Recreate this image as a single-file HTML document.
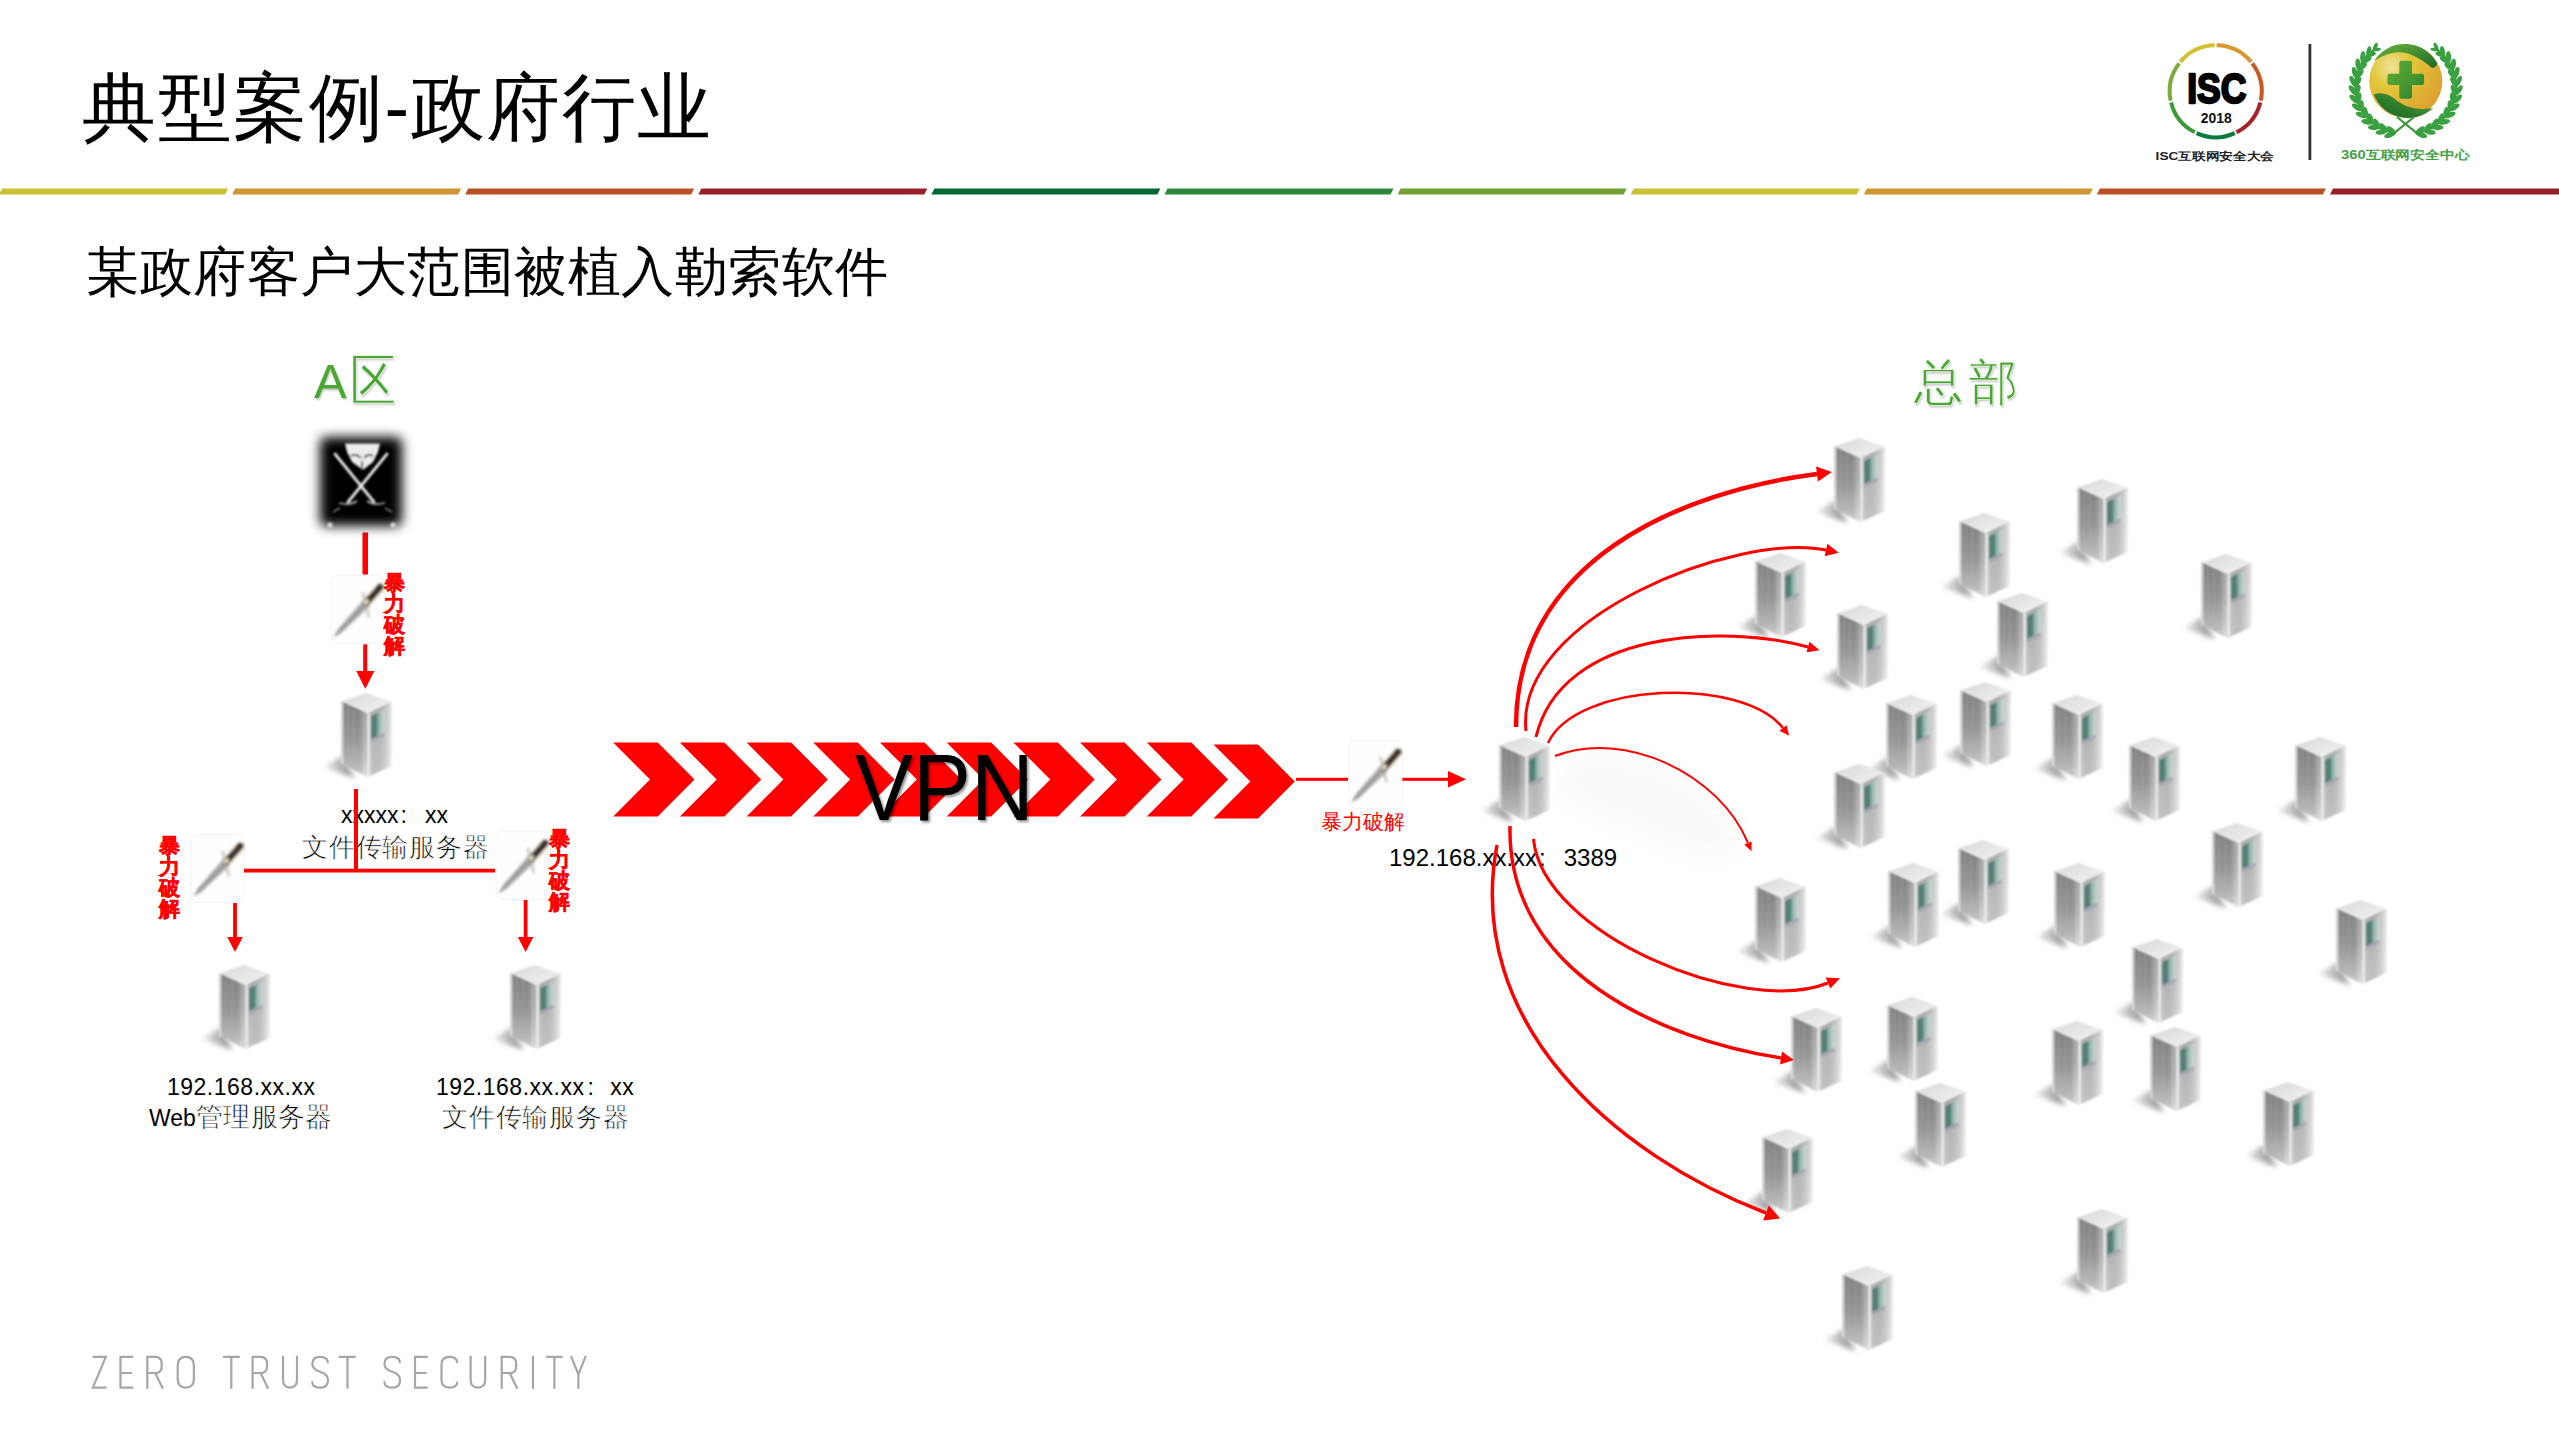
<!DOCTYPE html>
<html><head><meta charset="utf-8"><title>slide</title>
<style>
html,body{margin:0;padding:0;background:#fff;}
body{width:2559px;height:1439px;position:relative;overflow:hidden;font-family:"Liberation Sans",sans-serif;}
.t{position:absolute;white-space:nowrap;line-height:1;margin:0;}
svg{position:absolute;left:0;top:0;}
</style></head><body>
<svg width="2559" height="1439" viewBox="0 0 2559 1439">
<defs>
 <linearGradient id="gL" x1="0" y1="0" x2="0" y2="1">
  <stop offset="0" stop-color="#808080"/><stop offset="0.5" stop-color="#969696"/><stop offset="0.85" stop-color="#b8b8b8"/><stop offset="1" stop-color="#d0d0d0"/>
 </linearGradient>
 <linearGradient id="gLh" x1="0" y1="0" x2="1" y2="0">
  <stop offset="0" stop-color="#fff" stop-opacity="0.55"/><stop offset="0.12" stop-color="#fff" stop-opacity="0"/>
  <stop offset="0.75" stop-color="#fff" stop-opacity="0"/><stop offset="0.9" stop-color="#fff" stop-opacity="0.35"/><stop offset="1" stop-color="#fff" stop-opacity="0.1"/>
 </linearGradient>
 <linearGradient id="gR" x1="0" y1="0" x2="0" y2="1">
  <stop offset="0" stop-color="#c4c4c4"/><stop offset="1" stop-color="#e2e2e2"/>
 </linearGradient>
 <linearGradient id="gRh" x1="0" y1="0" x2="1" y2="0">
  <stop offset="0" stop-color="#000" stop-opacity="0.05"/><stop offset="1" stop-color="#fff" stop-opacity="0.6"/>
 </linearGradient>
 <linearGradient id="gT" x1="0" y1="0" x2="1" y2="1">
  <stop offset="0" stop-color="#d8d8d8"/><stop offset="1" stop-color="#f2f2f2"/>
 </linearGradient>
 <linearGradient id="gTeal" x1="0" y1="0" x2="1" y2="0">
  <stop offset="0" stop-color="#7ea89f"/><stop offset="1" stop-color="#d8e6e2" stop-opacity="0.6"/>
 </linearGradient>
 <linearGradient id="gSh" x1="0" y1="0" x2="1" y2="0">
  <stop offset="0" stop-color="#777" stop-opacity="0.1"/><stop offset="0.7" stop-color="#666" stop-opacity="0.6"/><stop offset="1" stop-color="#666" stop-opacity="0.65"/>
 </linearGradient>
 <filter id="fS" x="-50%" y="-50%" width="200%" height="200%"><feGaussianBlur stdDeviation="3.5"/></filter>
 <filter id="fS2" x="-80%" y="-80%" width="260%" height="260%"><feGaussianBlur stdDeviation="2.6"/></filter>
 <filter id="fB" x="-20%" y="-20%" width="140%" height="140%"><feGaussianBlur stdDeviation="0.9"/></filter>
 <filter id="fK" x="-20%" y="-20%" width="140%" height="140%"><feGaussianBlur stdDeviation="1.4"/></filter>
 <filter id="fL" x="-10%" y="-10%" width="120%" height="120%"><feGaussianBlur stdDeviation="0.4"/></filter>
 <filter id="fBig" x="-30%" y="-30%" width="160%" height="160%"><feGaussianBlur stdDeviation="14"/></filter>
 <filter id="fA" x="-30%" y="-30%" width="160%" height="160%"><feGaussianBlur stdDeviation="6"/></filter>
 <g id="srv">
  <path d="M-18,75 L1,64 L14,86 Z" fill="url(#gSh)" filter="url(#fS2)"/>
  <g filter="url(#fB)">
  <path d="M0,9 L26.5,21 L26.5,85 L0,72 Z" fill="url(#gL)"/>
  <path d="M0,9 L26.5,21 L26.5,85 L0,72 Z" fill="url(#gLh)"/>
  <path d="M7,12 L7,75 M13,15 L13,78 M20,18 L20,81" stroke="#b4b4b4" stroke-width="0.8" opacity="0.55"/>
  <path d="M26.5,21 L50.5,9.5 L50.5,74 L26.5,85 Z" fill="url(#gR)"/>
  <path d="M26.5,21 L50.5,9.5 L50.5,74 L26.5,85 Z" fill="url(#gRh)"/>
  <path d="M1.5,9 L25,1 L49.5,9.5 L26.5,20 Z" fill="url(#gT)"/>
  <path d="M30,24 L36.5,20.9 L36.5,43.9 L30,47 Z" fill="#527f77"/>
  <path d="M36.5,20.9 L44,17.3 L44,40.3 L36.5,43.9 Z" fill="url(#gTeal)"/>
  <path d="M30,47 L43.5,40.6 L43.5,44 L30,50.5 Z" fill="#9a98ac" opacity="0.6"/>
  <path d="M27.6,21 L27.6,85" stroke="#f2f2f2" stroke-width="2"/>
  <path d="M1.3,10 L1.3,72" stroke="#dcdcdc" stroke-width="1.6"/>
  </g>
 </g>

 <marker id="ma1" markerUnits="userSpaceOnUse" markerWidth="17" markerHeight="17.0" refX="0" refY="8.5" orient="auto" overflow="visible"><path d="M0,1 L15,8.5 L0,16.0 Z" fill="#f00"/></marker>
 <marker id="ma2" markerUnits="userSpaceOnUse" markerWidth="15" markerHeight="15.0" refX="0" refY="7.5" orient="auto" overflow="visible"><path d="M0,1 L13,7.5 L0,14.0 Z" fill="#f00"/></marker>
 <marker id="ma3" markerUnits="userSpaceOnUse" markerWidth="14" markerHeight="13.0" refX="0" refY="6.5" orient="auto" overflow="visible"><path d="M0,1 L12,6.5 L0,12.0 Z" fill="#f00"/></marker>
 <marker id="ma4" markerUnits="userSpaceOnUse" markerWidth="12" markerHeight="11.0" refX="0" refY="5.5" orient="auto" overflow="visible"><path d="M0,1 L10,5.5 L0,10.0 Z" fill="#f00"/></marker>
 <marker id="ma5" markerUnits="userSpaceOnUse" markerWidth="11" markerHeight="10" refX="0" refY="5" orient="auto" overflow="visible"><path d="M0,1 L9,5 L0,9 Z" fill="#f00"/></marker>
 <marker id="ma6" markerUnits="userSpaceOnUse" markerWidth="15" markerHeight="14" refX="0" refY="7" orient="auto" overflow="visible"><path d="M0,1 L13,7 L0,13 Z" fill="#f00"/></marker>
 <marker id="ma7" markerUnits="userSpaceOnUse" markerWidth="15" markerHeight="15.0" refX="0" refY="7.5" orient="auto" overflow="visible"><path d="M0,1 L13,7.5 L0,14.0 Z" fill="#f00"/></marker>
 <marker id="ma8" markerUnits="userSpaceOnUse" markerWidth="17" markerHeight="18" refX="0" refY="9" orient="auto" overflow="visible"><path d="M0,1 L15,9 L0,17 Z" fill="#f00"/></marker>

 <g id="knife">
  <rect x="0.5" y="0.5" width="53" height="68" rx="7" fill="#fefefe" stroke="#f3f3f3" stroke-width="1"/>
  <g filter="url(#fK)">
  <ellipse cx="44" cy="20" rx="12" ry="6" transform="rotate(-48 44 20)" fill="#fbf1e2" opacity="0.8"/>
  <path d="M32.2,25.4 L38.8,31.6 L11.2,57.6 L2.8,62.7 L7.5,54.1 Z" fill="#acacac"/>
  <path d="M35.5,28.5 L5,60" stroke="#8a8a8a" stroke-width="1.6"/>
  <path d="M32,16.8 L38.3,42.4" stroke="#b0a89c" stroke-width="2.4" opacity="0.7"/>
  <path d="M49.6,12.3 L36,27.5" stroke="#3a2e26" stroke-width="6.8" stroke-linecap="round"/>
  <path d="M37.5,25 L34,29" stroke="#efe2c8" stroke-width="4"/>
  </g>
 </g>
</defs>

<path d="M-1.0,194.5 L225.0,194.5 L228.0,188.5 L2.0,188.5 Z" fill="#cbc132"/>
<path d="M232.1,194.5 L458.1,194.5 L461.1,188.5 L235.1,188.5 Z" fill="#cf9634"/>
<path d="M465.2,194.5 L691.2,194.5 L694.2,188.5 L468.2,188.5 Z" fill="#bb5022"/>
<path d="M698.3,194.5 L924.3,194.5 L927.3,188.5 L701.3,188.5 Z" fill="#962228"/>
<path d="M931.4,194.5 L1157.4,194.5 L1160.4,188.5 L934.4,188.5 Z" fill="#046a35"/>
<path d="M1164.5,194.5 L1390.5,194.5 L1393.5,188.5 L1167.5,188.5 Z" fill="#2c8a3c"/>
<path d="M1397.6,194.5 L1623.6,194.5 L1626.6,188.5 L1400.6,188.5 Z" fill="#74a035"/>
<path d="M1630.7,194.5 L1856.7,194.5 L1859.7,188.5 L1633.7,188.5 Z" fill="#cbc132"/>
<path d="M1863.8,194.5 L2089.8,194.5 L2092.8,188.5 L1866.8,188.5 Z" fill="#cf9634"/>
<path d="M2096.9,194.5 L2322.9,194.5 L2325.9,188.5 L2099.9,188.5 Z" fill="#bb5022"/>
<path d="M2330.0,194.5 L2600.0,194.5 L2603.0,188.5 L2333.0,188.5 Z" fill="#962228"/>
<path d="M613.2,742.4 L657.7,742.4 L694.5,779.5 L657.7,816.5 L613.2,816.5 L650.0,779.5 Z" fill="#f00"/>
<path d="M679.9,742.4 L724.4,742.4 L761.2,779.5 L724.4,816.5 L679.9,816.5 L716.7,779.5 Z" fill="#f00"/>
<path d="M746.6,742.4 L791.1,742.4 L827.9,779.5 L791.1,816.5 L746.6,816.5 L783.4,779.5 Z" fill="#f00"/>
<path d="M813.3,742.4 L857.8,742.4 L894.6,779.5 L857.8,816.5 L813.3,816.5 L850.1,779.5 Z" fill="#f00"/>
<path d="M880.0,742.4 L924.5,742.4 L961.3,779.5 L924.5,816.5 L880.0,816.5 L916.8,779.5 Z" fill="#f00"/>
<path d="M946.7,742.4 L991.2,742.4 L1028.0,779.5 L991.2,816.5 L946.7,816.5 L983.5,779.5 Z" fill="#f00"/>
<path d="M1013.4,742.4 L1057.9,742.4 L1094.7,779.5 L1057.9,816.5 L1013.4,816.5 L1050.2,779.5 Z" fill="#f00"/>
<path d="M1080.1,742.4 L1124.6,742.4 L1161.4,779.5 L1124.6,816.5 L1080.1,816.5 L1116.9,779.5 Z" fill="#f00"/>
<path d="M1146.8,742.4 L1191.3,742.4 L1228.1,779.5 L1191.3,816.5 L1146.8,816.5 L1183.6,779.5 Z" fill="#f00"/>
<path d="M1213.5,744.4 L1258.0,744.4 L1294.8,781.5 L1258.0,818.5 L1213.5,818.5 L1250.3,781.5 Z" fill="#f00"/>
<path d="M1560,760 C1625,735 1720,775 1750,850 L1700,860 L1560,800 Z" fill="#000" opacity="0.02" filter="url(#fBig)"/>
<use href="#srv" x="341" y="692"/>
<use href="#srv" x="219" y="964"/>
<use href="#srv" x="510" y="964"/>
<use href="#srv" x="1499" y="736"/>
<use href="#srv" x="1834" y="437"/>
<use href="#srv" x="1755" y="552"/>
<use href="#srv" x="1837" y="604"/>
<use href="#srv" x="1959" y="512"/>
<use href="#srv" x="1997" y="592"/>
<use href="#srv" x="2077" y="478"/>
<use href="#srv" x="1886" y="694"/>
<use href="#srv" x="1960" y="681"/>
<use href="#srv" x="2052" y="694"/>
<use href="#srv" x="1834" y="763"/>
<use href="#srv" x="1755" y="877"/>
<use href="#srv" x="1888" y="862"/>
<use href="#srv" x="1958" y="839"/>
<use href="#srv" x="2054" y="862"/>
<use href="#srv" x="2201" y="553"/>
<use href="#srv" x="2129" y="736"/>
<use href="#srv" x="2295" y="736"/>
<use href="#srv" x="2212" y="822"/>
<use href="#srv" x="2336" y="899"/>
<use href="#srv" x="2132" y="938"/>
<use href="#srv" x="1791" y="1007"/>
<use href="#srv" x="1887" y="996"/>
<use href="#srv" x="2052" y="1020"/>
<use href="#srv" x="1915" y="1082"/>
<use href="#srv" x="1762" y="1128"/>
<use href="#srv" x="2077" y="1208"/>
<use href="#srv" x="2150" y="1026"/>
<use href="#srv" x="2263" y="1081"/>
<use href="#srv" x="1842" y="1265"/>
<rect x="362.5" y="532.5" width="5.5" height="42" fill="#f00"/>
<rect x="363.2" y="644.4" width="4" height="27" fill="#f00"/>
<path d="M356.3,671 L374.3,671 L365.3,689 Z" fill="#f00"/>
<rect x="233.1" y="903" width="3.8" height="35" fill="#f00"/>
<path d="M227.2,937 L242.8,937 L235,952 Z" fill="#f00"/>
<rect x="523.7" y="900" width="3.8" height="38" fill="#f00"/>
<path d="M517.8,937 L533.4,937 L525.6,952 Z" fill="#f00"/>
<rect x="1296" y="777.8" width="52" height="3" fill="#f00"/>
<rect x="1402" y="777.8" width="48" height="3" fill="#f00"/>
<path d="M1448,771 L1466,779.3 L1448,787.6 Z" fill="#f00"/>
<use href="#knife" x="330.6" y="575"/>
<use href="#knife" x="190.6" y="834"/>
<use href="#knife" x="495.6" y="831"/>
<use href="#knife" x="1348.4" y="740"/>
<g>
 <rect x="320" y="437" width="82" height="89" rx="6" fill="#000" filter="url(#fA)"/>
 <rect x="334" y="451" width="54" height="61" fill="#000"/>
 <g filter="url(#fB)">
 <path d="M345,443.5 L380,443.5 L378,452 L373,462 L363,470 L352,462 L347,452 Z" fill="#ececec"/>
 <path d="M351,456 Q356,453 361,458 M364,458 Q368,453 373,456" stroke="#333" stroke-width="1.6" fill="none"/>
 <path d="M362,461 L362,470" stroke="#333" stroke-width="1.6"/>
 <path d="M335,454 L374,502" stroke="#e8e8e8" stroke-width="2.8" stroke-linecap="round"/>
 <path d="M387,454 L348,502" stroke="#e8e8e8" stroke-width="2.8" stroke-linecap="round"/>
 <path d="M339,503 Q350,506 357,501 M367,501 Q374,506 385,503" stroke="#aaa" stroke-width="1.8" fill="none"/>
 <path d="M333,512 L340,508 M385,508 L392,512" stroke="#777" stroke-width="1.5"/>
 </g>
 <circle cx="330" cy="525" r="2.5" fill="#ddd" filter="url(#fB)"/><circle cx="393" cy="525" r="2.5" fill="#ddd" filter="url(#fB)"/>
</g>
<g fill="none" stroke="#a6a6a6" stroke-width="2.2"><path d="M92.6,1356.9 H105.8 L92.9,1387.7 H106.5"/><path d="M133.2,1356.9 H120.5 V1387.7 H133.2 M120.5,1373 H131.9"/><path d="M147.3,1388.8 V1356.9 H155 Q161.7,1356.9 161.7,1363.5 V1366.4 Q161.7,1373 155,1373 H147.3 M155.3,1373 L162.9,1388.8"/><path d="M177.7,1365.5 Q177.7,1356.9 185.8,1356.9 Q193.9,1356.9 193.9,1365.5 V1379.1 Q193.9,1387.7 185.8,1387.7 Q177.7,1387.7 177.7,1379.1 Z"/><path d="M223,1356.9 H239.8 M231.3,1356.9 V1388.8"/><path d="M252.6,1388.8 V1356.9 H260.3 Q267,1356.9 267,1363.5 V1366.4 Q267,1373 260.3,1373 H252.6 M260.6,1373 L268.2,1388.8"/><path d="M283,1355.8 V1379.6 Q283,1387.7 290,1387.7 Q297,1387.7 297,1379.6 V1355.8"/><path d="M327.8,1363 Q327.8,1356.9 320,1356.9 Q312.4,1356.9 312.4,1363.8 Q312.4,1369.5 320,1371.8 Q328,1374.2 328,1380.6 Q328,1387.7 320,1387.7 Q312.2,1387.7 312.2,1381.3"/><path d="M338.7,1356.9 H355.7 M347.5,1356.9 V1388.8"/><path d="M399.9,1363 Q399.9,1356.9 392.1,1356.9 Q384.5,1356.9 384.5,1363.8 Q384.5,1369.5 392.1,1371.8 Q400.1,1374.2 400.1,1380.6 Q400.1,1387.7 392.1,1387.7 Q384.3,1387.7 384.3,1381.3"/><path d="M427.8,1356.9 H415 V1387.7 H427.8 M415,1373 H426.6"/><path d="M457.2,1363 Q457.2,1356.9 449.5,1356.9 Q441.5,1356.9 441.5,1365 V1379.6 Q441.5,1387.7 449.5,1387.7 Q457.2,1387.7 457.2,1381.8"/><path d="M470.6,1355.8 V1379.6 Q470.6,1387.7 477.9,1387.7 Q485.2,1387.7 485.2,1379.6 V1355.8"/><path d="M501.7,1388.8 V1356.9 H509.4 Q516.1,1356.9 516.1,1363.5 V1366.4 Q516.1,1373 509.4,1373 H501.7 M509.7,1373 L517.3,1388.8"/><path d="M533,1355.8 V1388.8"/><path d="M546.2,1356.9 H562.6 M554.4,1356.9 V1388.8"/><path d="M571,1355.8 L578.4,1374.3 L585.8,1355.8 M578.4,1374.3 V1388.8"/></g>
<path d="M2214.74,45.31 A46,46 0 0 0 2180.34,61.87" fill="none" stroke="#d2c232" stroke-width="4"/>
<path d="M2179.14,63.38 A46,46 0 0 0 2170.65,100.59" fill="none" stroke="#7da83a" stroke-width="4"/>
<path d="M2171.08,102.47 A46,46 0 0 0 2194.88,132.32" fill="none" stroke="#3d9a3a" stroke-width="4"/>
<path d="M2196.61,133.15 A46,46 0 0 0 2234.79,133.15" fill="none" stroke="#0c7a3c" stroke-width="4"/>
<path d="M2236.52,132.32 A46,46 0 0 0 2260.32,102.47" fill="none" stroke="#a82329" stroke-width="4"/>
<path d="M2260.75,100.59 A46,46 0 0 0 2252.26,63.38" fill="none" stroke="#c95a22" stroke-width="4"/>
<path d="M2251.06,61.87 A46,46 0 0 0 2216.66,45.31" fill="none" stroke="#d9972f" stroke-width="4"/>
<text x="2187.2" y="102.5" font-family="Liberation Sans" font-weight="bold" font-size="42" textLength="59.2" lengthAdjust="spacingAndGlyphs" fill="#000" stroke="#000" stroke-width="2.4" stroke-linejoin="round">ISC</text>
<text x="2200.7" y="122.7" font-family="Liberation Sans" font-weight="bold" font-size="14.6" textLength="31" lengthAdjust="spacingAndGlyphs" fill="#111">2018</text>
<text x="2155.6" y="160" font-family="Liberation Sans" font-weight="bold" font-size="11" textLength="118.4" lengthAdjust="spacingAndGlyphs" fill="#222">ISC互联网安全大会</text>
<rect x="2308.5" y="44" width="2.8" height="116" fill="#333"/>
<defs>
 <radialGradient id="gGlobe" cx="0.3" cy="0.3" r="0.8">
  <stop offset="0" stop-color="#efe49a"/><stop offset="0.35" stop-color="#e2c63a"/><stop offset="1" stop-color="#dc9e2e"/>
 </radialGradient>
 <linearGradient id="gSw" x1="0" y1="0" x2="1" y2="1">
  <stop offset="0" stop-color="#72b03a"/><stop offset="0.6" stop-color="#3a8a30"/><stop offset="1" stop-color="#1a6626"/>
 </linearGradient>
</defs>
<g filter="url(#fL)">
<circle cx="2405.8" cy="81.2" r="36.6" fill="url(#gGlobe)"/>
<path d="M2374,61 A36.6,36.6 0 0 1 2437.3,63.5 Q2435,69 2431.5,67.5 Q2421,58 2408,53.5 Q2392,49 2374,61 Z" fill="url(#gSw)"/>
<path d="M2373.8,94.2 Q2386,90.5 2398,101.5 Q2412,111.5 2433.2,108 A36.6,36.6 0 0 1 2373.8,94.2 Z" fill="url(#gSw2)"/>
<path d="M2401.3,62.7 H2410 V75.7 H2422.1 V82.9 H2410 V96.8 H2401.3 V82.9 H2389.5 V75.7 H2401.3 Z" fill="url(#gCross)" stroke="url(#gCross)" stroke-width="4" stroke-linejoin="round"/>
</g>
<defs>
 <linearGradient id="gSw2" x1="1" y1="0" x2="0" y2="1">
  <stop offset="0" stop-color="#6aaa35"/><stop offset="0.6" stop-color="#2a7a2c"/><stop offset="1" stop-color="#1c6a28"/>
 </linearGradient>
 <linearGradient id="gCross" x1="0" y1="0" x2="1" y2="1">
  <stop offset="0" stop-color="#5aa83a"/><stop offset="0.5" stop-color="#4a9a2e"/><stop offset="1" stop-color="#2a8038"/>
 </linearGradient>
</defs>
<g filter="url(#fL)">
<path d="M2374.0,49.9 L2367.8,55.5 L2362.7,62.1 L2358.9,69.5 L2356.5,77.5 L2355.5,85.8 L2356.1,94.2 L2358.1,102.3 L2361.5,109.9 L2366.3,116.7 L2372.2,122.7 L2379.0,127.4 L2386.6,130.9 L2394.7,132.9" fill="none" stroke="#3a9a3a" stroke-width="2.4"/>
<ellipse cx="2374.0" cy="49.9" rx="4.3" ry="1.9" transform="rotate(-67.0 2374.0 49.9) translate(3.4 0)" fill="#3aa040"/>
<ellipse cx="2374.0" cy="49.9" rx="3.9" ry="1.7" transform="rotate(-7.0 2374.0 49.9) translate(3.1 0)" fill="#3aa040"/>
<ellipse cx="2367.8" cy="55.5" rx="5.3" ry="2.3" transform="rotate(-77.3 2367.8 55.5) translate(4.2 0)" fill="#3aa040"/>
<ellipse cx="2367.8" cy="55.5" rx="4.7" ry="2.1" transform="rotate(-17.3 2367.8 55.5) translate(3.7 0)" fill="#3aa040"/>
<ellipse cx="2362.7" cy="62.1" rx="6.2" ry="2.7" transform="rotate(-87.6 2362.7 62.1) translate(4.9 0)" fill="#3aa040"/>
<ellipse cx="2362.7" cy="62.1" rx="5.6" ry="2.4" transform="rotate(-27.6 2362.7 62.1) translate(4.4 0)" fill="#3aa040"/>
<ellipse cx="2358.9" cy="69.5" rx="6.2" ry="2.7" transform="rotate(-97.9 2358.9 69.5) translate(4.9 0)" fill="#3aa040"/>
<ellipse cx="2358.9" cy="69.5" rx="5.6" ry="2.4" transform="rotate(-37.9 2358.9 69.5) translate(4.4 0)" fill="#3aa040"/>
<ellipse cx="2356.5" cy="77.5" rx="6.2" ry="2.7" transform="rotate(-108.2 2356.5 77.5) translate(4.9 0)" fill="#3aa040"/>
<ellipse cx="2356.5" cy="77.5" rx="5.6" ry="2.4" transform="rotate(-48.2 2356.5 77.5) translate(4.4 0)" fill="#3aa040"/>
<ellipse cx="2355.5" cy="85.8" rx="6.2" ry="2.7" transform="rotate(-118.5 2355.5 85.8) translate(4.9 0)" fill="#3aa040"/>
<ellipse cx="2355.5" cy="85.8" rx="5.6" ry="2.4" transform="rotate(-58.5 2355.5 85.8) translate(4.4 0)" fill="#3aa040"/>
<ellipse cx="2356.1" cy="94.2" rx="6.2" ry="2.7" transform="rotate(-128.8 2356.1 94.2) translate(4.9 0)" fill="#3aa040"/>
<ellipse cx="2356.1" cy="94.2" rx="5.6" ry="2.4" transform="rotate(-68.8 2356.1 94.2) translate(4.4 0)" fill="#3aa040"/>
<ellipse cx="2358.1" cy="102.3" rx="6.2" ry="2.7" transform="rotate(-139.2 2358.1 102.3) translate(4.9 0)" fill="#3aa040"/>
<ellipse cx="2358.1" cy="102.3" rx="5.6" ry="2.4" transform="rotate(-79.2 2358.1 102.3) translate(4.4 0)" fill="#3aa040"/>
<ellipse cx="2361.5" cy="109.9" rx="6.2" ry="2.7" transform="rotate(-149.5 2361.5 109.9) translate(4.9 0)" fill="#3aa040"/>
<ellipse cx="2361.5" cy="109.9" rx="5.6" ry="2.4" transform="rotate(-89.5 2361.5 109.9) translate(4.4 0)" fill="#3aa040"/>
<ellipse cx="2366.3" cy="116.7" rx="6.2" ry="2.7" transform="rotate(-159.8 2366.3 116.7) translate(4.9 0)" fill="#3aa040"/>
<ellipse cx="2366.3" cy="116.7" rx="5.6" ry="2.4" transform="rotate(-99.8 2366.3 116.7) translate(4.4 0)" fill="#3aa040"/>
<ellipse cx="2372.2" cy="122.7" rx="6.2" ry="2.7" transform="rotate(-170.1 2372.2 122.7) translate(4.9 0)" fill="#3aa040"/>
<ellipse cx="2372.2" cy="122.7" rx="5.6" ry="2.4" transform="rotate(-110.1 2372.2 122.7) translate(4.4 0)" fill="#3aa040"/>
<ellipse cx="2379.0" cy="127.4" rx="6.2" ry="2.7" transform="rotate(-180.4 2379.0 127.4) translate(4.9 0)" fill="#3aa040"/>
<ellipse cx="2379.0" cy="127.4" rx="5.6" ry="2.4" transform="rotate(-120.4 2379.0 127.4) translate(4.4 0)" fill="#3aa040"/>
<ellipse cx="2386.6" cy="130.9" rx="6.2" ry="2.7" transform="rotate(-190.7 2386.6 130.9) translate(4.9 0)" fill="#3aa040"/>
<ellipse cx="2386.6" cy="130.9" rx="5.6" ry="2.4" transform="rotate(-130.7 2386.6 130.9) translate(4.4 0)" fill="#3aa040"/>
<ellipse cx="2394.7" cy="132.9" rx="6.2" ry="2.7" transform="rotate(-201.0 2394.7 132.9) translate(4.9 0)" fill="#3aa040"/>
<ellipse cx="2394.7" cy="132.9" rx="5.6" ry="2.4" transform="rotate(-141.0 2394.7 132.9) translate(4.4 0)" fill="#3aa040"/>
<path d="M2437.4,49.9 L2443.6,55.5 L2448.7,62.1 L2452.5,69.5 L2454.9,77.5 L2455.9,85.8 L2455.3,94.2 L2453.3,102.3 L2449.9,109.9 L2445.1,116.7 L2439.2,122.7 L2432.4,127.4 L2424.8,130.9 L2416.7,132.9" fill="none" stroke="#3a9a3a" stroke-width="2.4"/>
<ellipse cx="2437.4" cy="49.9" rx="4.3" ry="1.9" transform="rotate(-113.0 2437.4 49.9) translate(3.4 0)" fill="#3aa040"/>
<ellipse cx="2437.4" cy="49.9" rx="3.9" ry="1.7" transform="rotate(-173.0 2437.4 49.9) translate(3.1 0)" fill="#3aa040"/>
<ellipse cx="2443.6" cy="55.5" rx="5.3" ry="2.3" transform="rotate(-102.7 2443.6 55.5) translate(4.2 0)" fill="#3aa040"/>
<ellipse cx="2443.6" cy="55.5" rx="4.7" ry="2.1" transform="rotate(-162.7 2443.6 55.5) translate(3.7 0)" fill="#3aa040"/>
<ellipse cx="2448.7" cy="62.1" rx="6.2" ry="2.7" transform="rotate(-92.4 2448.7 62.1) translate(4.9 0)" fill="#3aa040"/>
<ellipse cx="2448.7" cy="62.1" rx="5.6" ry="2.4" transform="rotate(-152.4 2448.7 62.1) translate(4.4 0)" fill="#3aa040"/>
<ellipse cx="2452.5" cy="69.5" rx="6.2" ry="2.7" transform="rotate(-82.1 2452.5 69.5) translate(4.9 0)" fill="#3aa040"/>
<ellipse cx="2452.5" cy="69.5" rx="5.6" ry="2.4" transform="rotate(-142.1 2452.5 69.5) translate(4.4 0)" fill="#3aa040"/>
<ellipse cx="2454.9" cy="77.5" rx="6.2" ry="2.7" transform="rotate(-71.8 2454.9 77.5) translate(4.9 0)" fill="#3aa040"/>
<ellipse cx="2454.9" cy="77.5" rx="5.6" ry="2.4" transform="rotate(-131.8 2454.9 77.5) translate(4.4 0)" fill="#3aa040"/>
<ellipse cx="2455.9" cy="85.8" rx="6.2" ry="2.7" transform="rotate(-61.5 2455.9 85.8) translate(4.9 0)" fill="#3aa040"/>
<ellipse cx="2455.9" cy="85.8" rx="5.6" ry="2.4" transform="rotate(-121.5 2455.9 85.8) translate(4.4 0)" fill="#3aa040"/>
<ellipse cx="2455.3" cy="94.2" rx="6.2" ry="2.7" transform="rotate(-51.2 2455.3 94.2) translate(4.9 0)" fill="#3aa040"/>
<ellipse cx="2455.3" cy="94.2" rx="5.6" ry="2.4" transform="rotate(-111.2 2455.3 94.2) translate(4.4 0)" fill="#3aa040"/>
<ellipse cx="2453.3" cy="102.3" rx="6.2" ry="2.7" transform="rotate(-40.8 2453.3 102.3) translate(4.9 0)" fill="#3aa040"/>
<ellipse cx="2453.3" cy="102.3" rx="5.6" ry="2.4" transform="rotate(-100.8 2453.3 102.3) translate(4.4 0)" fill="#3aa040"/>
<ellipse cx="2449.9" cy="109.9" rx="6.2" ry="2.7" transform="rotate(-30.5 2449.9 109.9) translate(4.9 0)" fill="#3aa040"/>
<ellipse cx="2449.9" cy="109.9" rx="5.6" ry="2.4" transform="rotate(-90.5 2449.9 109.9) translate(4.4 0)" fill="#3aa040"/>
<ellipse cx="2445.1" cy="116.7" rx="6.2" ry="2.7" transform="rotate(-20.2 2445.1 116.7) translate(4.9 0)" fill="#3aa040"/>
<ellipse cx="2445.1" cy="116.7" rx="5.6" ry="2.4" transform="rotate(-80.2 2445.1 116.7) translate(4.4 0)" fill="#3aa040"/>
<ellipse cx="2439.2" cy="122.7" rx="6.2" ry="2.7" transform="rotate(-9.9 2439.2 122.7) translate(4.9 0)" fill="#3aa040"/>
<ellipse cx="2439.2" cy="122.7" rx="5.6" ry="2.4" transform="rotate(-69.9 2439.2 122.7) translate(4.4 0)" fill="#3aa040"/>
<ellipse cx="2432.4" cy="127.4" rx="6.2" ry="2.7" transform="rotate(0.4 2432.4 127.4) translate(4.9 0)" fill="#3aa040"/>
<ellipse cx="2432.4" cy="127.4" rx="5.6" ry="2.4" transform="rotate(-59.6 2432.4 127.4) translate(4.4 0)" fill="#3aa040"/>
<ellipse cx="2424.8" cy="130.9" rx="6.2" ry="2.7" transform="rotate(10.7 2424.8 130.9) translate(4.9 0)" fill="#3aa040"/>
<ellipse cx="2424.8" cy="130.9" rx="5.6" ry="2.4" transform="rotate(-49.3 2424.8 130.9) translate(4.4 0)" fill="#3aa040"/>
<ellipse cx="2416.7" cy="132.9" rx="6.2" ry="2.7" transform="rotate(21.0 2416.7 132.9) translate(4.9 0)" fill="#3aa040"/>
<ellipse cx="2416.7" cy="132.9" rx="5.6" ry="2.4" transform="rotate(-39.0 2416.7 132.9) translate(4.4 0)" fill="#3aa040"/>
</g>
<path d="M2392.6,134.4 L2414,117 M2418.4,134.4 L2397,117" stroke="#3a9a3a" stroke-width="2.2"/>
<text x="2341" y="159" font-family="Liberation Sans" font-weight="bold" font-size="12" textLength="128.5" lengthAdjust="spacingAndGlyphs" fill="#45a045">360互联网安全中心</text>
</svg>
<div class="t" style="left:82px;top:71px;font-size:74px;letter-spacing:1.6px;color:#000;">典型案例-政府行业</div>
<div class="t" style="left:86px;top:245px;font-size:53px;letter-spacing:0.5px;color:#000;">某政府客户大范围被植入勒索软件</div>
<div class="t" style="left:314px;top:357px;font-size:49px;color:#4aa832;text-shadow:1px 2px 2px rgba(0,0,0,0.22);">A</div>
<div class="t" style="left:350px;top:352px;font-size:48px;color:#4aa832;text-shadow:1px 2px 2px rgba(0,0,0,0.22);-webkit-text-stroke:0.6px #fff;transform-origin:0 0;transform:scale(0.96,1.19);">区</div>
<div class="t" style="left:1914px;top:358px;font-size:49px;letter-spacing:6px;color:#4aa832;text-shadow:1px 2px 2px rgba(0,0,0,0.22);-webkit-text-stroke:0.6px #fff;">总部</div>
<div class="t" style="left:855px;top:740px;font-size:95px;color:#000;text-shadow:2px 2px 3px rgba(0,0,0,0.45);transform-origin:0 0;transform:scaleX(0.915);">VPN</div>
<div class="t" style="left:384px;top:572px;font-size:21px;font-weight:bold;color:#f00;width:22px;white-space:normal;line-height:21px;-webkit-text-stroke:0.5px #f00;">暴力破解</div>
<div class="t" style="left:159px;top:835px;font-size:21px;font-weight:bold;color:#f00;width:22px;white-space:normal;line-height:21px;-webkit-text-stroke:0.5px #f00;">暴力破解</div>
<div class="t" style="left:549px;top:828px;font-size:21px;font-weight:bold;color:#f00;width:22px;white-space:normal;line-height:21px;-webkit-text-stroke:0.5px #f00;">暴力破解</div>
<div class="t" style="left:1321px;top:811px;font-size:21px;color:#f00;">暴力破解</div>
<div class="t" style="left:341px;top:804px;font-size:23px;color:#000;">xxxxx<span style="margin-left:2px">:</span><span style="margin-left:18px">xx</span></div>
<div class="t" style="left:302px;top:834px;font-size:26px;letter-spacing:0.8px;color:#000;-webkit-text-stroke:0.6px #fff;">文件传输服务器</div>
<div class="t" style="left:167px;top:1076px;font-size:23px;letter-spacing:0.5px;color:#000;">192.168.xx.xx</div>
<div class="t" style="left:149px;top:1104px;color:#000;"><span style="font-size:23px">Web</span><span style="font-size:27px;letter-spacing:0.4px;-webkit-text-stroke:0.6px #fff;">管理服务器</span></div>
<div class="t" style="left:436px;top:1076px;font-size:23px;letter-spacing:0.5px;color:#000;">192.168.xx.xx<span style="margin-left:3px">:</span><span style="margin-left:16px">xx</span></div>
<div class="t" style="left:442px;top:1104px;font-size:26px;letter-spacing:0.8px;color:#000;-webkit-text-stroke:0.6px #fff;">文件传输服务器</div>
<div class="t" style="left:1389px;top:846px;font-size:24px;color:#000;">192.168.xx.xx<span style="margin-left:2px">:</span><span style="margin-left:18px">3389</span></div>
<svg width="2559" height="1439" viewBox="0 0 2559 1439" style="position:absolute;left:0;top:0;">
<path d="M1516.0,727.0 C1515.8,561.5 1678.0,491.9 1817.0,474.0" fill="none" stroke="#f00" stroke-width="4.5" marker-end="url(#ma1)"/>
<path d="M1526.0,731.0 C1514.0,616.6 1739.4,531.7 1826.0,550.0" fill="none" stroke="#f00" stroke-width="3" marker-end="url(#ma2)"/>
<path d="M1536.0,737.0 C1561.4,629.5 1724.2,623.9 1808.0,647.0" fill="none" stroke="#f00" stroke-width="3" marker-end="url(#ma3)"/>
<path d="M1548.0,743.0 C1576.1,682.0 1741.5,675.9 1783.0,728.0" fill="none" stroke="#f00" stroke-width="2.5" marker-end="url(#ma4)"/>
<path d="M1555.0,756.0 C1625.3,728.6 1719.9,774.5 1748.0,843.0" fill="none" stroke="#f00" stroke-width="2" marker-end="url(#ma5)"/>
<path d="M1533.5,839.0 C1542.1,934.0 1743.1,1017.2 1828.0,983.0" fill="none" stroke="#f00" stroke-width="3" marker-end="url(#ma6)"/>
<path d="M1510.0,826.0 C1507.0,972.1 1660.6,1039.2 1781.0,1058.0" fill="none" stroke="#f00" stroke-width="3.5" marker-end="url(#ma7)"/>
<path d="M1497.0,845.0 C1463.6,1022.6 1614.1,1154.7 1766.0,1213.0" fill="none" stroke="#f00" stroke-width="3.5" marker-end="url(#ma8)"/>
<rect x="354" y="789" width="4" height="83" fill="#f00"/>
<rect x="244" y="868.7" width="251" height="3.8" fill="#f00"/>
</svg>
</body></html>
